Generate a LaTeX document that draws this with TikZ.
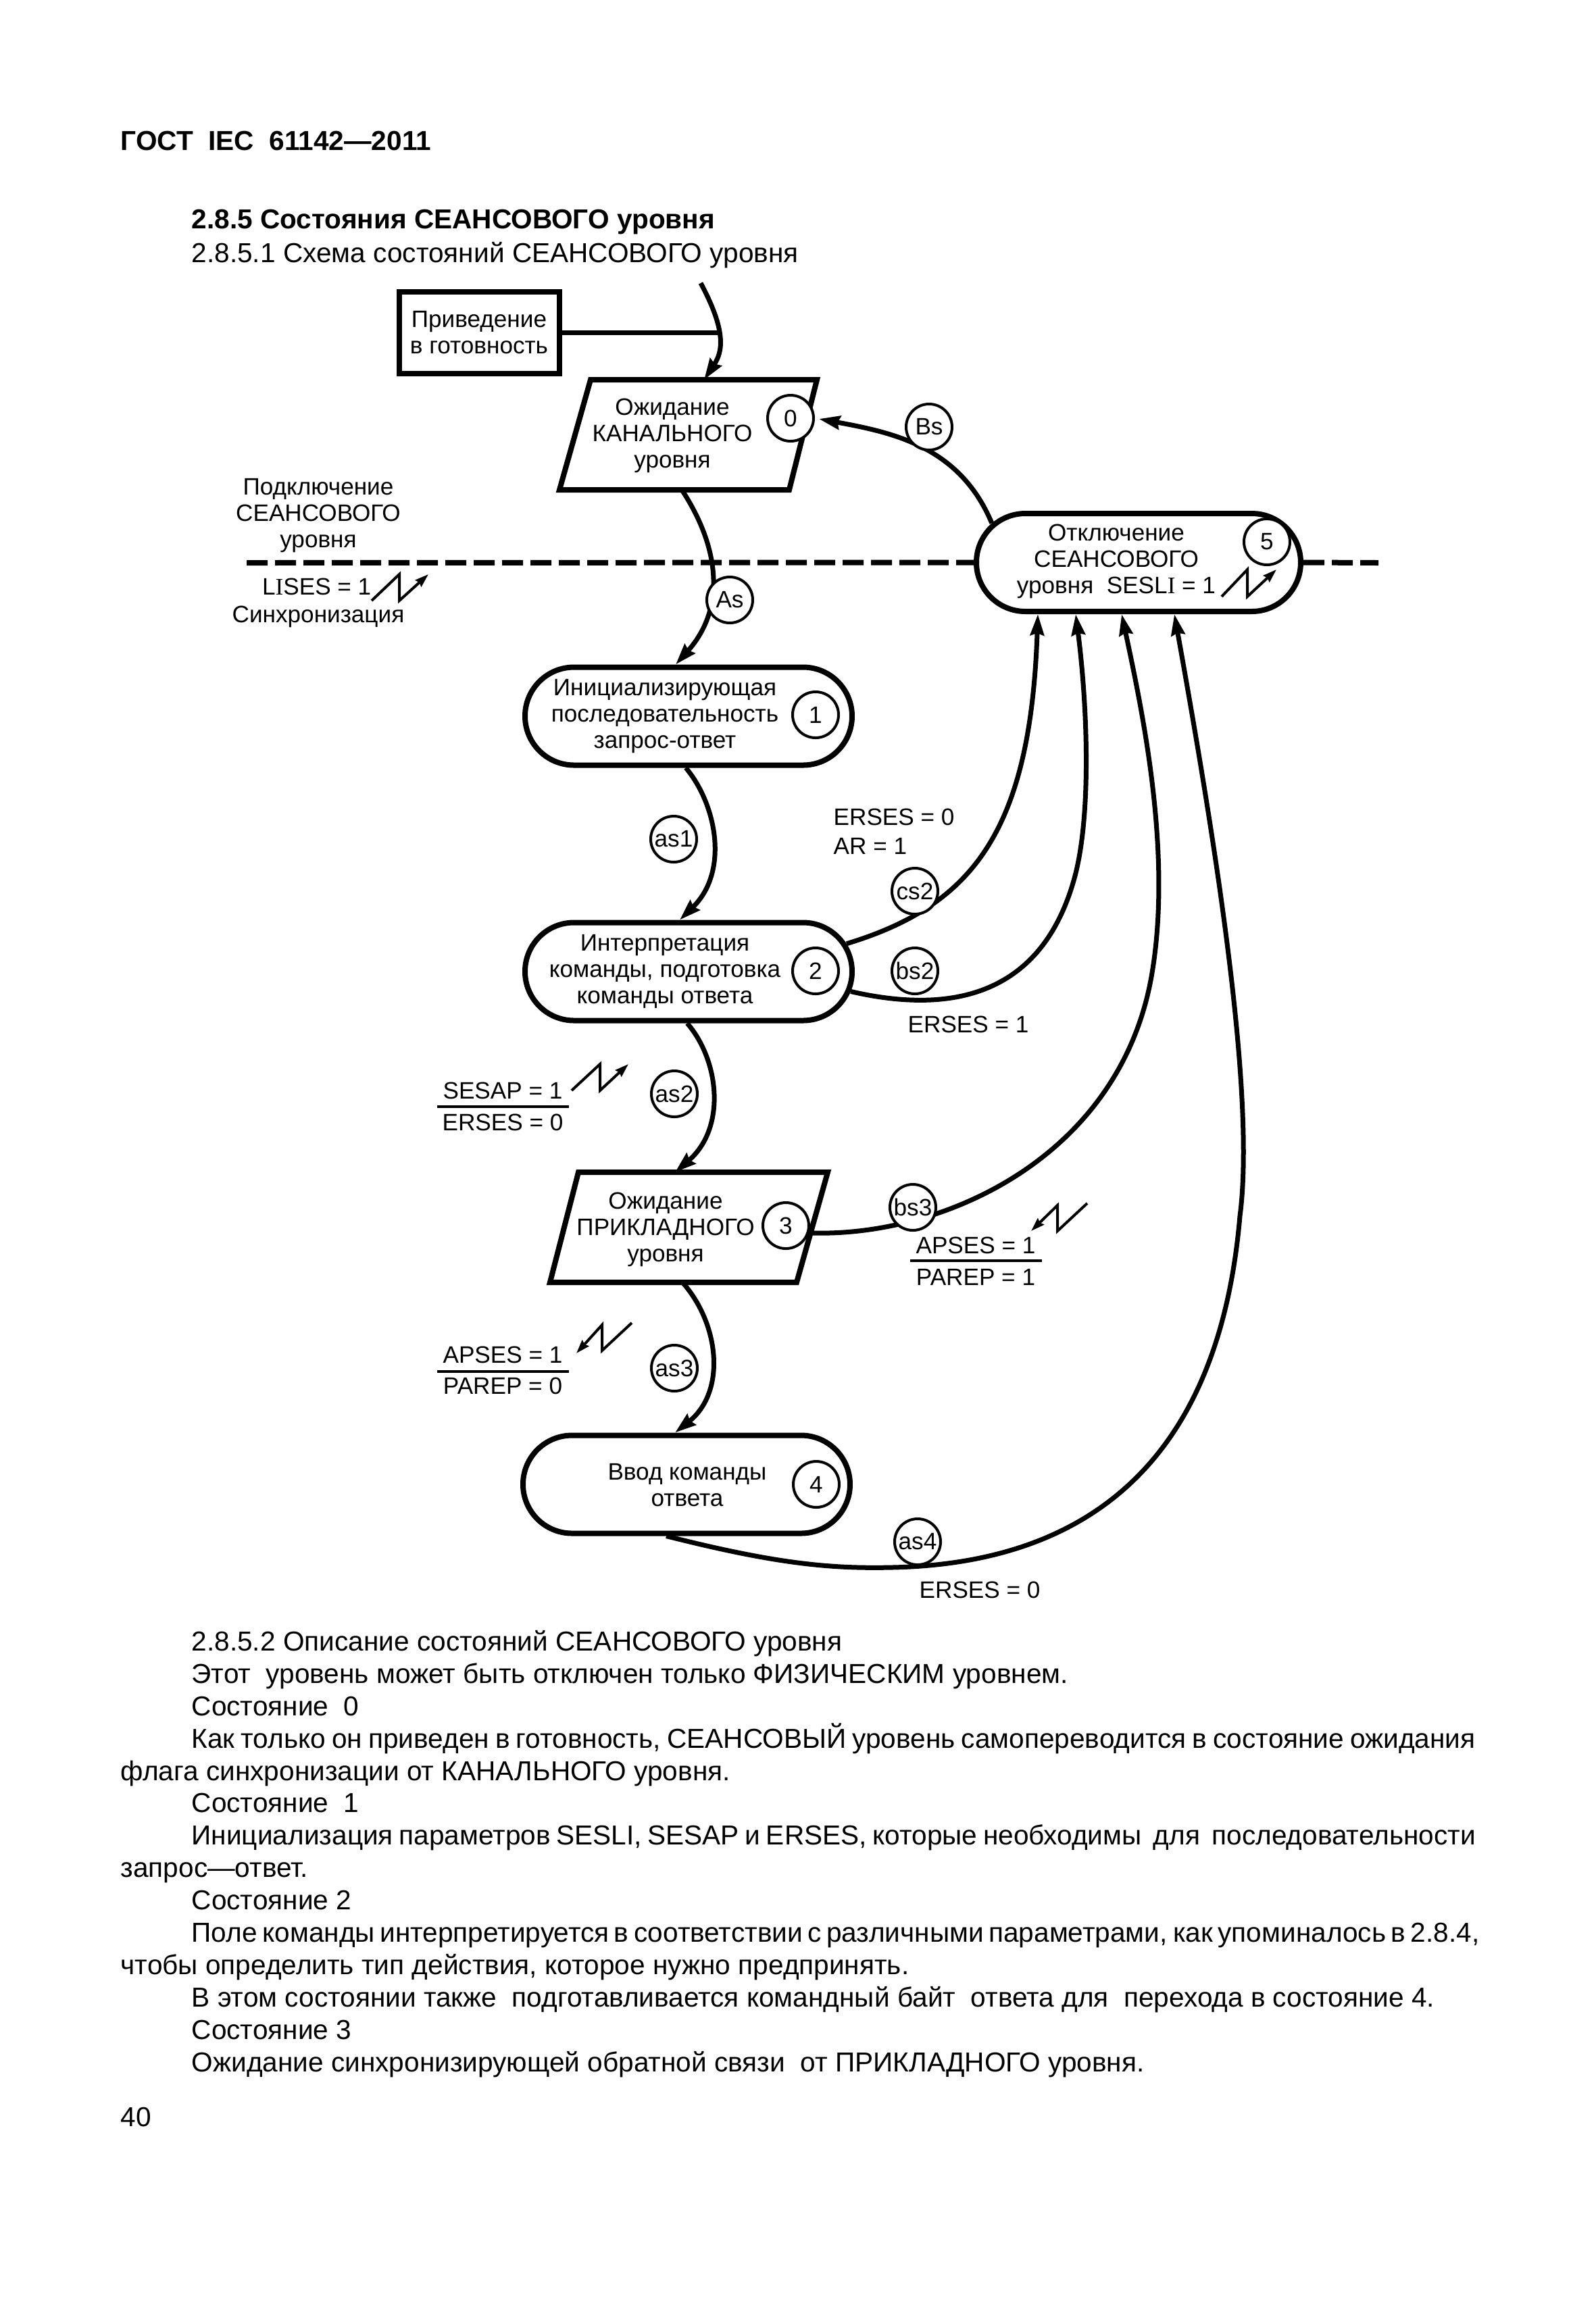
\documentclass[tikz,border=0pt]{standalone}
\usepackage{fontspec}
\setmainfont{Liberation Sans}
\newfontfamily\serffont{Liberation Serif}
\usepackage{xcolor}
\usetikzlibrary{arrows.meta,positioning,shapes.misc}

\newcommand{\serifI}{{\serffont I}}

\tikzset{
  statepill/.style={draw, line width=0.08cm, fill=white, rounded rectangle,
    minimum width=4.84cm, minimum height=1.45cm, inner sep=0pt},
  slantbox/.style={minimum height=1.63cm, inner sep=0pt, outer sep=0pt},
  slantpen/.style={line width=0.08cm, line join=miter},
  statetext/.style={align=center, inner sep=0pt, font=\fontsize{10}{11.1}\selectfont},
  statenum/.style={draw, circle, line width=0.04cm, fill=white, minimum size=0.68cm,
    inner sep=0pt, font=\fontsize{10}{11.1}\selectfont},
  linkmark/.style={statenum},
  flow/.style={line width=0.07cm, -{Stealth[length=0.31cm,width=0.2cm,inset=0.03cm]}},
  plainflow/.style={line width=0.07cm},
  levelline/.style={line width=0.08cm, dash pattern=on 0.31cm off 0.11cm},
  bolt/.style={line width=0.04cm, line join=miter, -{Stealth[length=0.2cm,width=0.13cm,inset=0.02cm]}},
  fracrule/.style={line width=0.035cm},
  bodyline/.style={anchor=base west, inner sep=0pt, font=\fontsize{11.55}{13}\selectfont},
  headbold/.style={bodyline, font=\fontsize{11.55}{13}\selectfont\bfseries},
}

\begin{document}
\begin{tikzpicture}[y=-1cm]
  \useasboundingbox (0,0) rectangle (23.62,34.25);

  % Page heading
  \node[headbold] (pagehead) at (1.78,2.22) {ГОСТ\ \ IEC\ \ 61142—2011};
  \node[headbold] (sechead) at (2.83,3.38) {2.8.5 Состояния СЕАНСОВОГО уровня};
  \node[bodyline] (subhead) at (2.83,3.88) {2.8.5.1 Схема состояний СЕАНСОВОГО уровня};

  % Start box and waiting states
  \node[draw, line width=0.08cm, minimum width=2.37cm, minimum height=1.21cm, inner sep=0pt,
    statetext] (ready) at (7.09,4.92) {Приведение\\в готовность};
  \node[slantbox, minimum width=3.81cm] (st0) at (10.185,6.435) {};
  \draw[slantpen] (st0.south west) -- ([xshift=0.46cm]st0.north west) -- (st0.north east)
    -- ([xshift=-0.41cm]st0.south east) -- cycle;
  \node[statetext] (txt0) at (9.95,6.45) {Ожидание\\КАНАЛЬНОГО\\уровня};
  \node[statenum] (num0) at (11.70,6.19) {0};

  \node[slantbox, minimum width=4.11cm] (st3) at (10.195,18.165) {};
  \draw[slantpen] (st3.south west) -- ([xshift=0.42cm]st3.north west) -- (st3.north east)
    -- ([xshift=-0.46cm]st3.south east) -- cycle;
  \node[statetext] (txt3) at (9.85,18.20) {Ожидание\\ПРИКЛАДНОГО\\уровня};
  \node[statenum] (num3) at (11.63,18.14) {3};

  % Rounded states
  \node[statepill] (st1) at (10.19,10.60) {};
  \node[statetext] (txt1) at (9.84,10.60) {Инициализирующая\\последовательность\\запрос-ответ};
  \node[statenum] (num1) at (12.07,10.58) {1};

  \node[statepill] (st2) at (10.19,14.38) {};
  \node[statetext] (txt2) at (9.84,14.38) {Интерпретация\\команды, подготовка\\команды ответа};
  \node[statenum] (num2) at (12.07,14.37) {2};

  \node[statepill] (st4) at (10.16,21.97) {};
  \node[statetext] (txt4) at (10.17,21.98) {Ввод команды\\ответа};
  \node[statenum] (num4) at (12.08,21.97) {4};

  \node[statepill, minimum width=4.80cm] (st5) at (16.85,8.325) {};
  \node[statetext] (txt5) at (16.52,8.31) {Отключение\\СЕАНСОВОГО\\уровня\ \ SESL\serifI{} = 1};
  \node[statenum] (num5) at (18.75,8.02) {5};
  \draw[bolt] (18.08,8.83) -- ++(0.38,-0.40) -- ++(0,0.40) -- ++(0.43,-0.40);

  % Level line
  \coordinate (lineleft) at (3.65,8.33);
  \coordinate (lineright) at (20.40,8.33);
  \draw[levelline] (lineleft) -- (st5.west);
  \draw[levelline] (st5.east) -- (lineright);

  % Connectors
  \coordinate (startarc) at (10.37,4.19);
  \coordinate (startmid) at (10.65,4.92);
  \draw[flow] (startarc) .. controls (10.75,4.90) and (10.70,5.20) .. ([xshift=0.235cm]st0.north);
  \draw[plainflow] (ready.east) -- (startmid);
  \draw[flow] ([xshift=-0.095cm]st0.south) .. controls (10.65,8.10) and (10.75,9.00) .. ([xshift=-0.19cm]st1.north);
  \draw[flow] ([xshift=-0.04cm]st1.south) .. controls (10.60,11.90) and (10.80,12.90) .. ([xshift=-0.13cm]st2.north);
  \draw[flow] ([xshift=-0.02cm]st2.south) .. controls (10.65,15.70) and (10.75,16.70) .. ([xshift=-0.205cm]st3.north);
  \draw[flow] ([xshift=-0.095cm]st3.south) .. controls (10.65,19.60) and (10.75,20.60) .. ([xshift=-0.17cm]st4.north);
  \draw[flow] (st5.165) .. controls (14.20,6.60) and (13.20,6.40) .. ([xshift=0.03cm,yshift=0.235cm]st0.east);
  \draw[flow] (st2.10) .. controls (14.40,13.40) and (15.25,12.30) .. ([xshift=-1.49cm]st5.south);
  \draw[flow] (st2.-7) .. controls (14.00,15.00) and (15.40,14.80) .. (15.90,13.00)
    .. controls (16.15,12.10) and (16.10,10.50) .. ([xshift=-0.93cm]st5.south);
  \draw[flow] ([xshift=-0.22cm,yshift=-0.085cm]st3.east) .. controls (14.00,18.30) and (16.60,17.10) .. (17.05,14.40)
    .. controls (17.35,12.60) and (16.90,10.50) .. ([xshift=-0.25cm]st5.south);
  \draw[flow] ([xshift=-0.30cm]st4.south) .. controls (11.50,23.15) and (12.30,23.22) .. (13.20,23.20)
    .. controls (15.60,23.15) and (18.00,22.10) .. (18.35,18.00)
    .. controls (18.60,16.10) and (17.90,12.00) .. ([xshift=0.53cm]st5.south);

  % Link marks
  \node[linkmark] (markBs) at (13.75,6.32) {Bs};
  \node[linkmark] (markAs) at (10.80,8.88) {As};
  \node[linkmark] (markas1) at (9.97,12.42) {as1};
  \node[linkmark] (markcs2) at (13.54,13.19) {cs2};
  \node[linkmark] (markbs2) at (13.54,14.37) {bs2};
  \node[linkmark] (markas2) at (9.98,16.19) {as2};
  \node[linkmark] (markbs3) at (13.51,17.87) {bs3};
  \node[linkmark] (markas3) at (9.98,20.25) {as3};
  \node[linkmark] (markas4) at (13.58,22.82) {as4};

  % Left side labels
  \node[statetext] (connlabel) at (4.71,7.63) {Подключение\\СЕАНСОВОГО\\уровня};
  \node[statetext, anchor=base east] (liseslabel) at (5.50,8.80) {L\serifI{}SES = 1};
  \node[statetext, anchor=base] (synclabel) at (4.71,9.21) {Синхронизация};
  \draw[bolt] (5.50,8.89) -- ++(0.41,-0.39) -- ++(0,0.39) -- ++(0.43,-0.39);

  % Fraction labels
  \node[statetext, anchor=base] (sesap) at (7.44,16.26) {SESAP = 1};
  \draw[fracrule] (6.47,16.38) -- (8.42,16.38);
  \node[statetext, anchor=base] (erses0a) at (7.44,16.73) {ERSES = 0};
  \draw[bolt] (8.46,16.14) -- ++(0.42,-0.39) -- ++(0,0.39) -- ++(0.42,-0.39);

  \node[statetext, anchor=base] (apses1a) at (7.44,20.17) {APSES = 1};
  \draw[fracrule] (6.47,20.30) -- (8.42,20.30);
  \node[statetext, anchor=base] (parep0) at (7.44,20.63) {PAREP = 0};
  \draw[bolt] (9.35,19.58) -- ++(-0.44,0.41) -- ++(0,-0.38) -- ++(-0.38,0.42);

  \node[statetext, anchor=base] (apses1b) at (14.44,18.55) {APSES = 1};
  \draw[fracrule] (13.47,18.66) -- (15.42,18.66);
  \node[statetext, anchor=base] (parep1) at (14.44,19.02) {PAREP = 1};
  \draw[bolt] (16.09,17.81) -- ++(-0.44,0.41) -- ++(0,-0.38) -- ++(-0.39,0.38);

  % Condition labels
  \node[statetext, anchor=base west] (erses0b) at (12.33,12.21) {ERSES = 0};
  \node[statetext, anchor=base west] (ar1) at (12.33,12.64) {AR = 1};
  \node[statetext, anchor=base west] (erses1) at (13.43,15.28) {ERSES = 1};
  \node[statetext, anchor=base west] (erses0c) at (13.60,23.65) {ERSES = 0};

  % Body text
  \node[bodyline] (body0) at (2.83,24.43) {2.8.5.2 Описание состояний СЕАНСОВОГО уровня};
  \node[bodyline] (body1) at (2.83,24.91) {Этот\ \ уровень может быть отключен только ФИЗИЧЕСКИМ уровнем.};
  \node[bodyline] (body2) at (2.83,25.39) {Состояние\ \ 0};
  \node[bodyline] (body3) at (2.83,25.87) {\makebox[19.00cm][s]{Как только он приведен в готовность, СЕАНСОВЫЙ уровень самопереводится в состояние ожидания}};
  \node[bodyline] (body4) at (1.78,26.35) {флага синхронизации от КАНАЛЬНОГО уровня.};
  \node[bodyline] (body5) at (2.83,26.82) {Состояние\ \ 1};
  \node[bodyline] (body6) at (2.83,27.30) {\makebox[19.00cm][s]{Инициализация параметров SESLI, SESAP и ERSES, которые необходимы\ \ для\ \ последовательности}};
  \node[bodyline] (body7) at (1.78,27.78) {запрос—ответ.};
  \node[bodyline] (body8) at (2.83,28.26) {Состояние 2};
  \node[bodyline] (body9) at (2.83,28.74) {\makebox[19.04cm][s]{Поле команды интерпретируется в соответствии с различными параметрами, как упоминалось в 2.8.4,}};
  \node[bodyline] (body10) at (1.78,29.22) {чтобы определить тип действия, которое нужно предпринять.};
  \node[bodyline] (body11) at (2.83,29.70) {В этом состоянии также\ \ подготавливается командный байт\ \ ответа для\ \ перехода в состояние 4.};
  \node[bodyline] (body12) at (2.83,30.18) {Состояние 3};
  \node[bodyline] (body13) at (2.83,30.66) {Ожидание синхронизирующей обратной связи\ \ от ПРИКЛАДНОГО уровня.};
  \node[bodyline] (pagenum) at (1.78,31.47) {40};
\end{tikzpicture}
\end{document}
